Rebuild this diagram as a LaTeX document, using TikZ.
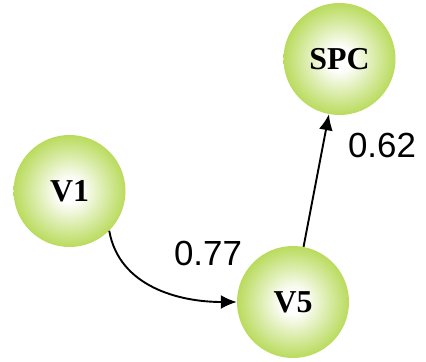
\documentclass[tikz,border=0pt]{standalone}
\usepackage{fontspec}
\setmainfont{Liberation Serif}
\newfontfamily\weightFont{Liberation Sans}
\usepackage{xcolor}
\usetikzlibrary{arrows.meta}
\definecolor{ballColor}{HTML}{9ACB14}
\definecolor{ballCenterColor}{HTML}{FFFFFF}
\definecolor{linkColor}{HTML}{000000}
\pgfdeclareradialshading{ballShading}{\pgfpoint{0bp}{0bp}}{%
color(0bp)=(ballCenterColor); color(5bp)=(ballCenterColor);
color(34bp)=(ballColor); color(50bp)=(ballColor)}
\tikzset{
varNode/.style={circle, inner sep=0pt, minimum size=112bp,
shading=ballShading, font=\fontsize{32}{36}\selectfont\bfseries},
weightLabel/.style={inner sep=0pt, font=\fontsize{35}{40}\selectfont\weightFont},
link/.style={color=linkColor, line width=1.9bp, -{Latex[length=16bp, width=14bp]}}
}

\begin{document}
\begin{tikzpicture}[x=1bp,y=-1bp]
\useasboundingbox (0, 0) rectangle (426, 362);

% nodes
\node[varNode] (V1) at (69.5, 191) {V1};
\node[varNode] (V5) at (293, 302) {V5};
\node[varNode] (SPC) at (339.5, 59) {SPC};

% links
\draw[link] (V1.-45) to[out=-80, in=180] (V5);
\draw[link] (V5) -- (SPC);

% weights
\node[weightLabel] (w15) at (208, 253) {0.77};
\node[weightLabel] (w5spc) at (382, 145.5) {0.62};
\end{tikzpicture}
\end{document}
